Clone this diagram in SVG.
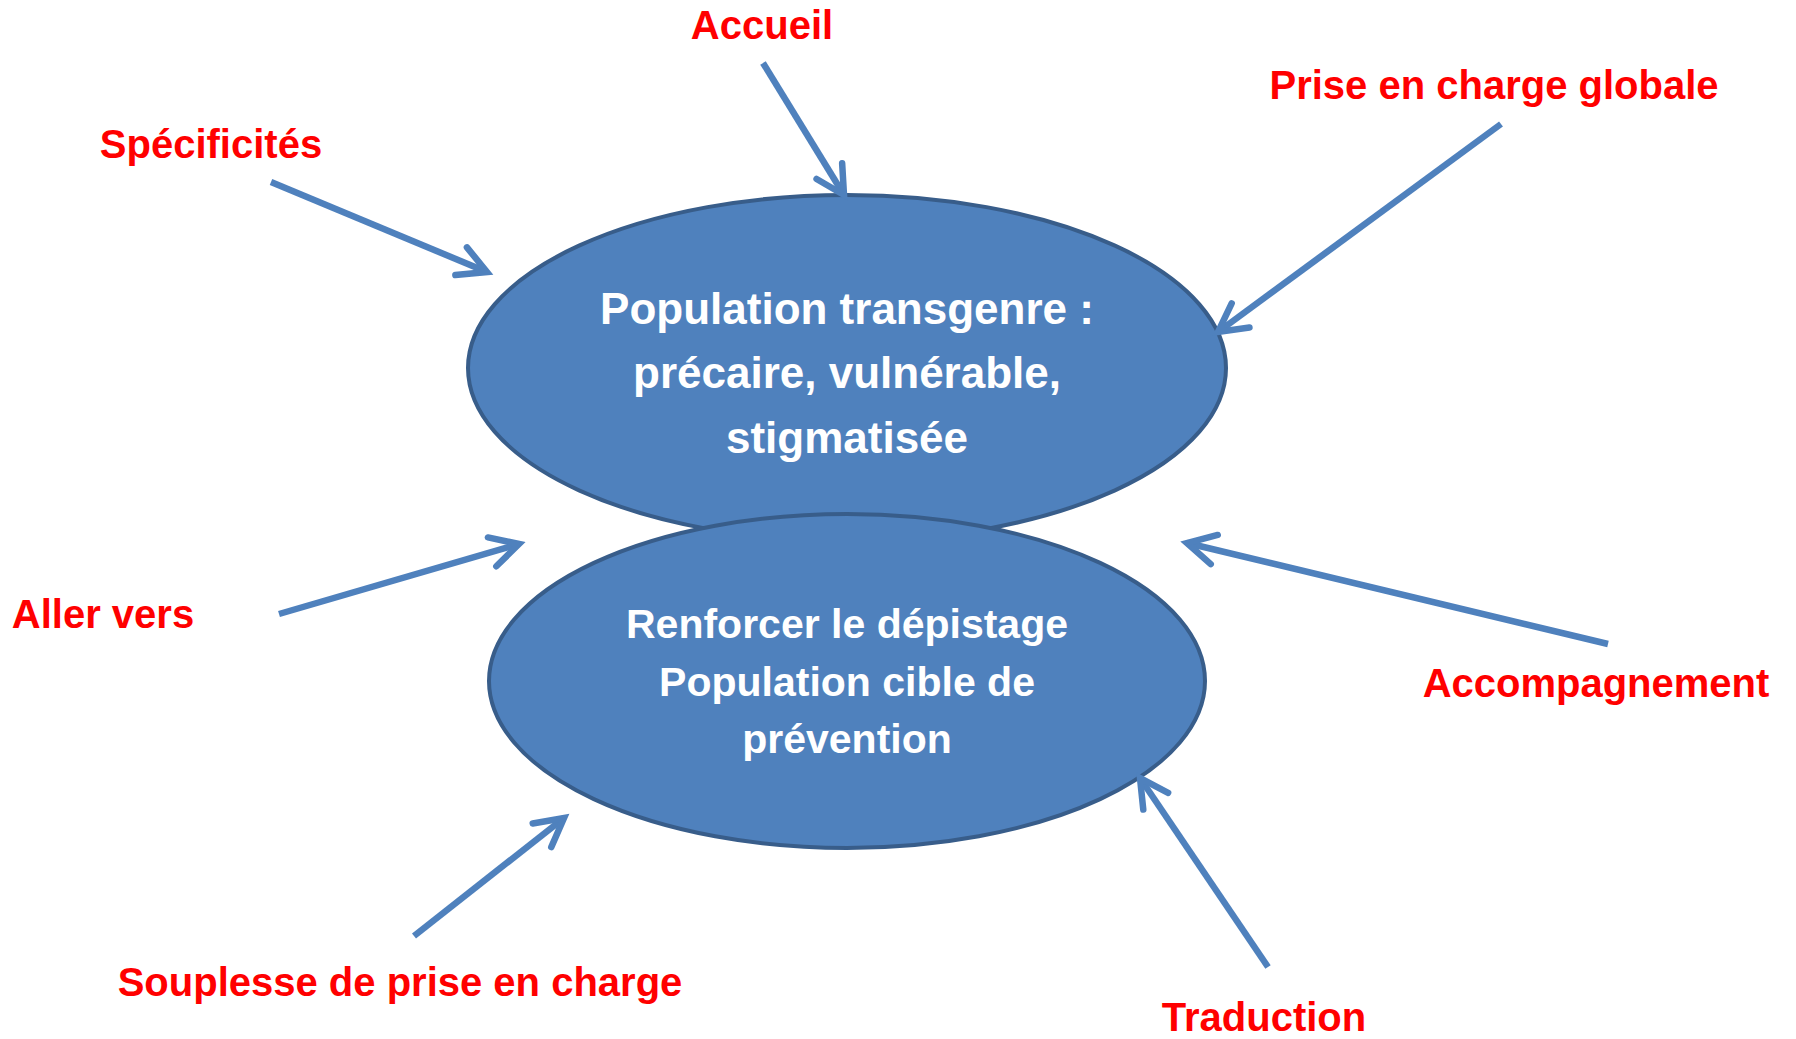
<svg xmlns="http://www.w3.org/2000/svg" width="1796" height="1039" viewBox="0 0 1796 1039">
<style>
.node{fill:#4F81BD;stroke:#385D8A;stroke-width:4}
.ntext{font-family:"Liberation Sans",Arial,sans-serif;font-weight:bold;fill:#FFFFFF;text-anchor:middle}
.lbl{font-family:"Liberation Sans",Arial,sans-serif;font-weight:bold;font-size:40px;fill:#FF0000;text-anchor:middle}
.conn{stroke:#4F81BD;stroke-width:6.5;fill:none;marker-end:url(#arr)}
</style>
<defs>
<marker id="arr" markerUnits="userSpaceOnUse" viewBox="-40 -20 50 40" refX="0" refY="0" markerWidth="50" markerHeight="40" orient="auto" overflow="visible">
<path d="M-28,-15 L0,0 L-28,15" fill="none" stroke="#4F81BD" stroke-width="6.5" stroke-linecap="round" stroke-linejoin="miter"/>
</marker>
</defs>
<rect width="1796" height="1039" fill="#FFFFFF"/>
<g id="node-top">
<ellipse class="node" cx="847" cy="368" rx="379" ry="173"/>
<text class="ntext" font-size="44" x="847" y="324">Population transgenre :</text>
<text class="ntext" font-size="44" x="847" y="388">précaire, vulnérable,</text>
<text class="ntext" font-size="44" x="847" y="453">stigmatisée</text>
</g>
<g id="node-bottom">
<ellipse class="node" cx="847" cy="681" rx="358" ry="167"/>
<text class="ntext" font-size="41" x="847" y="638">Renforcer le dépistage</text>
<text class="ntext" font-size="41" x="847" y="696">Population cible de</text>
<text class="ntext" font-size="41" x="847" y="753">prévention</text>
</g>
<g id="labels">
<text id="lbl-accueil" class="lbl" x="762" y="39">Accueil</text>
<text id="lbl-specificites" class="lbl" x="211" y="158">Spécificités</text>
<text id="lbl-prise" class="lbl" x="1494" y="99">Prise en charge globale</text>
<text id="lbl-aller" class="lbl" x="103" y="628">Aller vers</text>
<text id="lbl-souplesse" class="lbl" x="400" y="996">Souplesse de prise en charge</text>
<text id="lbl-accomp" class="lbl" x="1596" y="697" font-size="41">Accompagnement</text>
<text id="lbl-traduction" class="lbl" x="1264" y="1031">Traduction</text>
</g>
<g id="connectors">
<line class="conn" x1="763" y1="63" x2="844" y2="195"/>
<line class="conn" x1="271" y1="182" x2="487" y2="272"/>
<line class="conn" x1="1501" y1="124" x2="1218" y2="332"/>
<line class="conn" x1="279" y1="614" x2="519" y2="544"/>
<line class="conn" x1="414" y1="936" x2="564" y2="818"/>
<line class="conn" x1="1608" y1="644" x2="1187" y2="543"/>
<line class="conn" x1="1268" y1="967" x2="1140" y2="778"/>
</g>
</svg>
